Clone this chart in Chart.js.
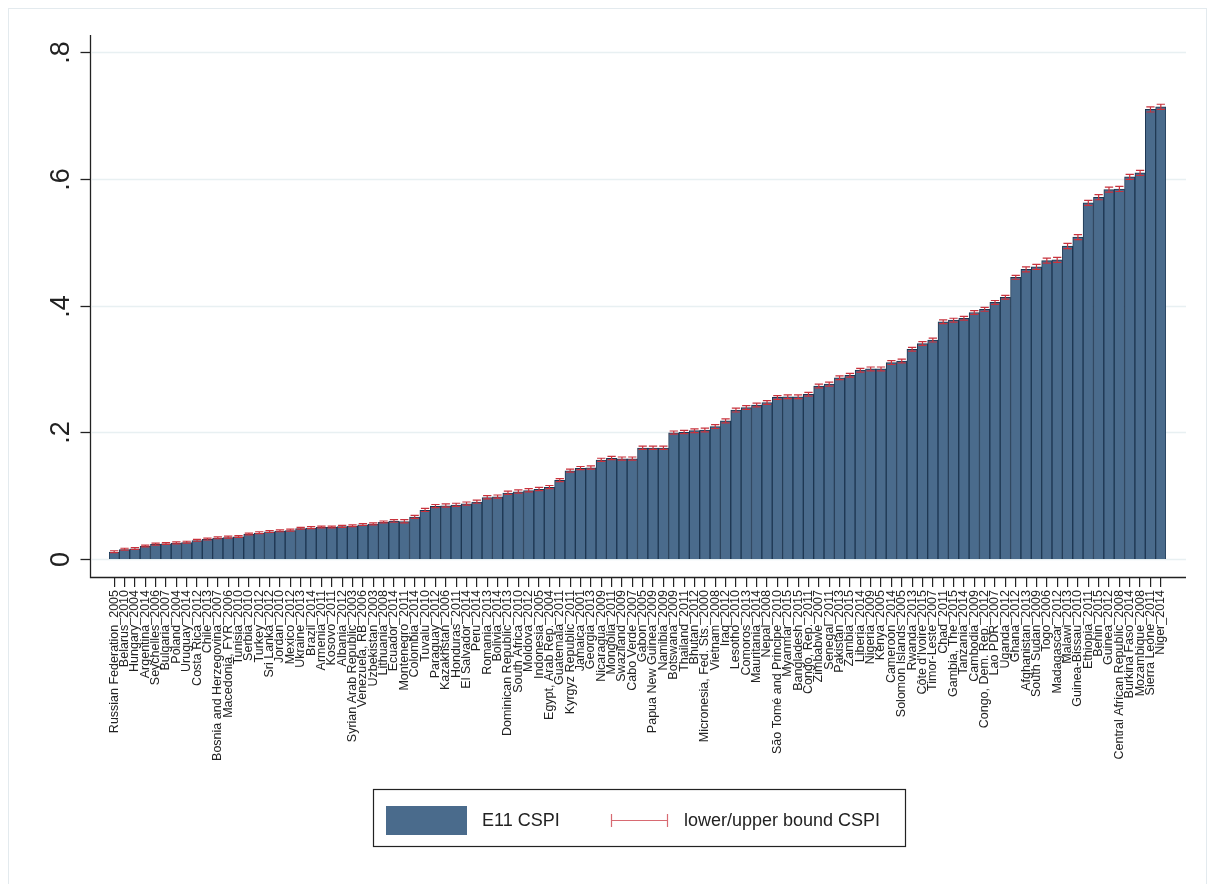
<!DOCTYPE html>
<html>
<head>
<meta charset="utf-8">
<title>E11 CSPI</title>
<script src="https://cdn.jsdelivr.net/npm/chart.js@4/dist/chart.umd.min.js"></script>
<style>
body{margin:0;background:#fff}
</style>
</head>
<body>
<canvas id="barChart" width="1215" height="884"></canvas>
<script>
let countries=["Russian Federation_2005","Belarus_2010","Hungary_2004","Argentina_2014","Seychelles_2006","Bulgaria_2007","Poland_2004","Uruguay_2014","Costa Rica_2012","Chile_2013",
"Bosnia and Herzegovina_2007","Macedonia, FYR_2006","Tunisia_2010","Serbia_2010","Turkey_2012","Sri Lanka_2012","Jordan_2010","Mexico_2012","Ukraine_2013","Brazil_2014",
"Armenia_2011","Kosovo_2011","Albania_2012","Syrian Arab Republic_2003","Venezuela, RB_2006","Uzbekistan_2003","Lithuania_2008","Ecuador_2014","Montenegro_2011","Colombia_2014",
"Tuvalu_2010","Paraguay_2012","Kazakhstan_2006","Honduras_2011","El Salvador_2014","Peru_2014","Romania_2013","Bolivia_2014","Dominican Republic_2013","South Africa_2010",
"Moldova_2012","Indonesia_2005","Egypt, Arab Rep._2004","Guatemala_2011","Kyrgyz Republic_2011","Jamaica_2001","Georgia_2013","Nicaragua_2009","Mongolia_2011","Swaziland_2009",
"Cabo Verde_2007","Gabon_2005","Papua New Guinea_2009","Namibia_2009","Botswana_2009","Thailand_2011","Bhutan_2012","Micronesia, Fed. Sts._2000","Vietnam_2008","Iraq_2012",
"Lesotho_2010","Comoros_2013","Mauritania_2014","Nepal_2008","São Tomé and Principe_2010","Myanmar_2015","Bangladesh_2015","Congo, Rep._2011","Zimbabwe_2007","Senegal_2011",
"Pakistan_2013","Zambia_2015","Liberia_2014","Nigeria_2009","Kenya_2005","Cameroon_2014","Solomon Islands_2005","Rwanda_2013","Côte d'Ivoire_2015","Timor-Leste_2007",
"Chad_2011","Gambia, The_2015","Tanzania_2014","Cambodia_2009","Congo, Dem. Rep._2012","Lao PDR_2007","Uganda_2012","Ghana_2012","Afghanistan_2013","South Sudan_2009",
"Togo_2006","Madagascar_2012","Malawi_2013","Guinea-Bissau_2010","Ethiopia_2011","Benin_2015","Guinea_2012","Central African Republic_2008","Burkina Faso_2014","Mozambique_2008",
"Sierra Leone_2011","Niger_2014"]

let cspi=[0.011,0.015,0.016,0.020,0.023,0.024,0.025,0.026,0.029,0.031,
0.033,0.034,0.035,0.039,0.041,0.043,0.044,0.045,0.048,0.049,
0.050,0.050,0.051,0.052,0.054,0.055,0.058,0.060,0.059,0.066,
0.077,0.083,0.084,0.085,0.087,0.090,0.097,0.098,0.104,0.106,
0.108,0.110,0.113,0.124,0.139,0.143,0.144,0.156,0.159,0.158,
0.158,0.175,0.175,0.175,0.199,0.200,0.2025,0.2035,0.209,0.218,
0.235,0.239,0.243,0.247,0.255,0.256,0.256,0.260,0.273,0.276,
0.286,0.290,0.298,0.300,0.300,0.310,0.3125,0.331,0.340,0.3455,
0.3745,0.377,0.380,0.389,0.394,0.405,0.413,0.4445,0.457,0.461,
0.471,0.472,0.494,0.508,0.562,0.571,0.583,0.584,0.603,0.6095,
0.7095,0.7137]

let lowerCspi=[0.010,0.014,0.015,0.019,0.022,0.023,0.024,0.025,0.028,0.030,
0.032,0.033,0.034,0.038,0.040,0.042,0.043,0.044,0.047,0.048,
0.049,0.049,0.050,0.051,0.053,0.054,0.057,0.058,0.057,0.064,
0.075,0.081,0.082,0.083,0.085,0.088,0.095,0.096,0.102,0.104,
0.106,0.108,0.111,0.122,0.137,0.141,0.142,0.154,0.157,0.156,
0.156,0.173,0.173,0.173,0.197,0.198,0.1995,0.2005,0.206,0.215,
0.232,0.236,0.240,0.244,0.252,0.253,0.253,0.257,0.270,0.273,
0.283,0.287,0.295,0.297,0.297,0.307,0.3095,0.328,0.337,0.3425,
0.3715,0.374,0.377,0.386,0.391,0.402,0.410,0.4415,0.453,0.457,
0.467,0.468,0.490,0.504,0.558,0.567,0.579,0.580,0.599,0.6055,
0.7055,0.7097]

let upperCspi=[0.013,0.017,0.018,0.022,0.025,0.026,0.027,0.028,0.031,0.033,
0.035,0.036,0.037,0.041,0.043,0.045,0.046,0.047,0.050,0.051,
0.052,0.052,0.053,0.054,0.056,0.057,0.060,0.062,0.062,0.069,
0.080,0.086,0.087,0.088,0.090,0.093,0.100,0.101,0.107,0.109,
0.111,0.113,0.116,0.127,0.142,0.146,0.147,0.159,0.162,0.161,
0.161,0.178,0.178,0.178,0.202,0.203,0.2055,0.2065,0.212,0.221,
0.238,0.242,0.246,0.250,0.258,0.259,0.259,0.263,0.276,0.279,
0.289,0.293,0.301,0.303,0.303,0.313,0.3155,0.334,0.343,0.3485,
0.3775,0.380,0.383,0.392,0.397,0.408,0.416,0.4475,0.461,0.465,
0.475,0.476,0.498,0.512,0.566,0.575,0.587,0.588,0.607,0.6135,
0.7135,0.7177]

let yTicks=[0,0.2,0.4,0.6,0.8]
let yTickLabels=["0",".2",".4",".6",".8"]
let seriesNames=["E11 CSPI","lower/upper bound CSPI"]

let barColor="#4a6b8c"
let barEdge="#1d3651"
let capColor="#c8323c"
let fontFam="'Liberation Sans', Arial, sans-serif"

Chart.defaults.font.family=fontFam

// stata style axes, grid, error caps and legend
let stataLook={
    id:"stataLook",
    beforeDraw:function(chart){
        let ctx=chart.ctx
        ctx.save()
        ctx.fillStyle="#fff"
        ctx.fillRect(0,0,chart.width,chart.height)
        ctx.strokeStyle="#e3eaee"
        ctx.lineWidth=1
        ctx.strokeRect(8.5,8.5,1198,880)
        ctx.restore()
    },
    beforeDatasetsDraw:function(chart){
        let ctx=chart.ctx
        let a=chart.chartArea
        let y=chart.scales.y
        ctx.save()
        ctx.strokeStyle="#e8f0f2"
        ctx.lineWidth=1.6
        for(let i=0;i<yTicks.length;i++){
            let py=Math.round(y.getPixelForValue(yTicks[i]))+0.5
            ctx.beginPath()
            ctx.moveTo(a.left-17,py)
            ctx.lineTo(a.right+20,py)
            ctx.stroke()
        }
        ctx.restore()
    },
    afterDatasetsDraw:function(chart){
        let ctx=chart.ctx
        let a=chart.chartArea
        let y=chart.scales.y
        let meta=chart.getDatasetMeta(0)
        ctx.save()
        // error caps
        ctx.strokeStyle=capColor
        ctx.lineWidth=1.2
        for(let i=0;i<meta.data.length;i++){
            let bx=meta.data[i].x
            let half=meta.data[i].width*0.4
            let lo=y.getPixelForValue(lowerCspi[i])
            let hi=y.getPixelForValue(upperCspi[i])
            ctx.beginPath()
            ctx.moveTo(bx,lo);ctx.lineTo(bx,hi)
            ctx.moveTo(bx-half,lo);ctx.lineTo(bx+half,lo)
            ctx.moveTo(bx-half,hi);ctx.lineTo(bx+half,hi)
            ctx.stroke()
        }
        // axis lines
        let ax=a.left-18.5
        ctx.strokeStyle="#222"
        ctx.lineWidth=1.3
        ctx.beginPath()
        ctx.moveTo(ax,a.top)
        ctx.lineTo(ax,a.bottom+0.5)
        ctx.lineTo(a.right+20,a.bottom+0.5)
        ctx.stroke()
        // y ticks + vertical labels
        ctx.fillStyle="#222"
        ctx.font="27px "+fontFam
        ctx.textAlign="center"
        ctx.textBaseline="middle"
        for(let i=0;i<yTicks.length;i++){
            let py=Math.round(y.getPixelForValue(yTicks[i]))+0.5
            ctx.beginPath()
            ctx.moveTo(ax-10,py);ctx.lineTo(ax,py)
            ctx.stroke()
            ctx.save()
            ctx.translate(ax-29,py)
            ctx.rotate(-Math.PI/2)
            ctx.fillText(yTickLabels[i],0,0)
            ctx.restore()
        }
        // legend box
        ctx.lineWidth=1.2
        ctx.strokeStyle="#222"
        ctx.strokeRect(373.5,789.5,532,57)
        ctx.fillStyle=barColor
        ctx.fillRect(386,806,81,29)
        ctx.fillStyle="#222"
        ctx.font="18px "+fontFam
        ctx.textAlign="left"
        ctx.fillText(seriesNames[0],482,821)
        ctx.strokeStyle="#d86a72"
        ctx.lineWidth=1.2
        ctx.beginPath()
        ctx.moveTo(611,820.5);ctx.lineTo(668,820.5)
        ctx.moveTo(611.5,814);ctx.lineTo(611.5,827)
        ctx.moveTo(667.5,814);ctx.lineTo(667.5,827)
        ctx.stroke()
        ctx.fillText(seriesNames[1],684,821)
        ctx.restore()
    }
}

let data_1={
    labels:countries,
    datasets:[
        {
            label:seriesNames[0],
            data:cspi,
            backgroundColor:barColor,
            borderColor:barEdge,
            borderWidth:1,
            categoryPercentage:1,
            barPercentage:1
        }
    ]
}

let options={
    responsive:false,
    animation:false,
    devicePixelRatio:1,
    layout:{padding:{left:109,right:49,top:35,bottom:0}},
    plugins:{
        legend:{display:false},
        tooltip:{enabled:false}
    },
    scales:{
        x:{
            offset:true,
            grid:{display:true,drawOnChartArea:false,offset:false,tickLength:10,color:"#222",lineWidth:1.2},
            border:{display:false},
            ticks:{autoSkip:false,minRotation:90,maxRotation:90,padding:3,color:"#222",font:{size:12.5}},
            afterFit:function(s){s.height=307}
        },
        y:{
            min:-0.0284,
            max:0.827,
            grid:{display:false},
            border:{display:false},
            ticks:{display:false},
            afterBuildTicks:function(s){s.ticks=yTicks.map(function(v){return {value:v}})},
            afterFit:function(s){s.width=0}
        }
    }
}

let barChartCanvas=document.getElementById("barChart").getContext("2d")
let barChart=new Chart(barChartCanvas,{
    type:"bar",
    data:data_1,
    options:options,
    plugins:[stataLook]
})
</script>
</body>
</html>
